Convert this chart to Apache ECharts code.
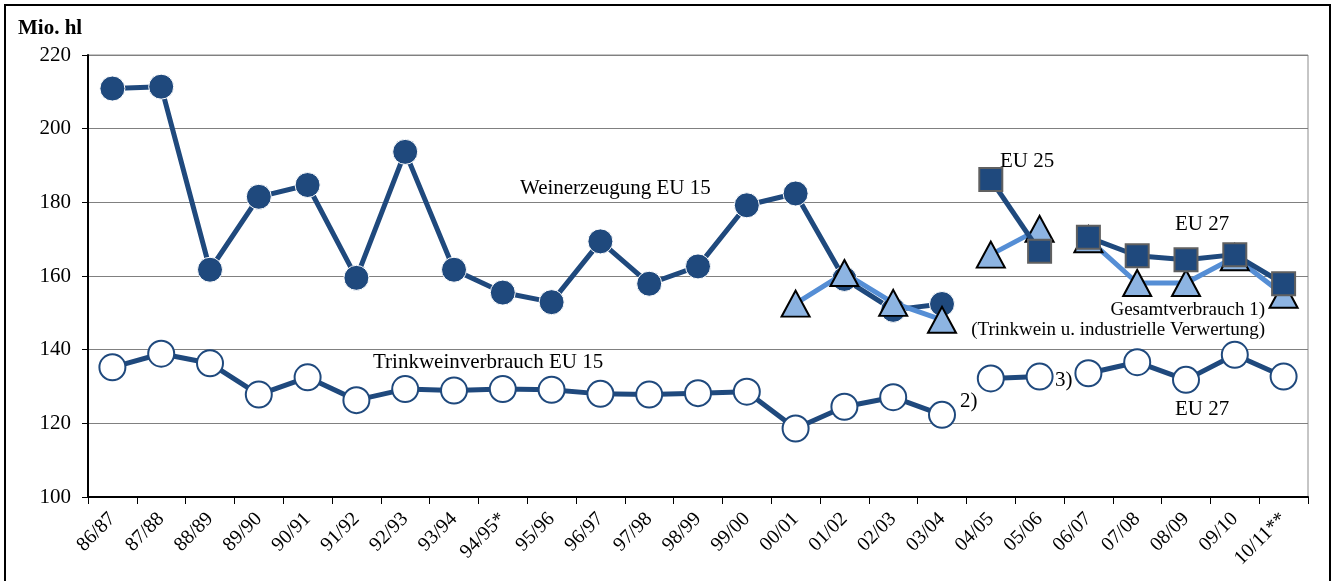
<!DOCTYPE html>
<html>
<head>
<meta charset="utf-8">
<title>Weinerzeugung und Verbrauch</title>
<script src="https://cdn.jsdelivr.net/npm/echarts@6/dist/echarts.min.js"></script>
<style>
  html, body { margin: 0; padding: 0; background: #fff; }
  #chart { width: 1333px; height: 581px; }
</style>
</head>
<body>
<div id="chart"></div>
<script>
// Wirtschaftsjahre
const categories = ['86/87', '87/88', '88/89', '89/90', '90/91', '91/92', '92/93', '93/94', '94/95*',
  '95/96', '96/97', '97/98', '98/99', '99/00', '00/01', '01/02', '02/03', '03/04', '04/05', '05/06',
  '06/07', '07/08', '08/09', '09/10', '10/11**']
const yTicks = [100, 120, 140, 160, 180, 200, 220]

// Weinerzeugung (Mio. hl)
const erzeugungEU15 = [210.9, 211.4, 161.7, 181.5, 184.7, 159.5, 193.7, 161.7, 155.5, 152.9, 169.4, 157.9,
  162.6, 179.2, 182.4, 159.2, 150.8, 152.4]
const erzeugungEU25 = [null, null, null, null, null, null, null, null, null, null, null, null, null, null,
  null, null, null, null, 186.2, 166.7]
const erzeugungEU27 = [null, null, null, null, null, null, null, null, null, null, null, null, null, null,
  null, null, null, null, null, null, 170.5, 165.5, 164.4, 165.8, 157.9]

// Gesamtverbrauch 1)
const gesamtEU15 = [null, null, null, null, null, null, null, null, null, null, null, null, null, null,
  152.5, 160.8, 152.7, 148.1]
const gesamtEU25 = [null, null, null, null, null, null, null, null, null, null, null, null, null, null,
  null, null, null, null, 165.8, 172.8]
const gesamtEU27 = [null, null, null, null, null, null, null, null, null, null, null, null, null, null,
  null, null, null, null, null, null, 170.0, 158.1, 158.1, 165.1, 154.9]

// Trinkweinverbrauch
const trinkEU15 = [135.2, 138.9, 136.3, 127.8, 132.5, 126.3, 129.3, 128.9, 129.3, 129.1, 128.0, 127.8,
  128.2, 128.6, 118.6, 124.5, 127.1, 122.3]
const trinkEU25 = [null, null, null, null, null, null, null, null, null, null, null, null, null, null,
  null, null, null, null, 132.2, 132.7]
const trinkEU27 = [null, null, null, null, null, null, null, null, null, null, null, null, null, null,
  null, null, null, null, null, null, 133.6, 136.6, 131.8, 138.6, 132.7]

const dark = '#1F497D'
const light = '#558ED5'
const serif = '"Liberation Serif", "Times New Roman", serif'

function circleSeries (name, data) {
  return {
    name: name,
    type: 'line',
    data: data,
    symbol: 'circle',
    symbolSize: 25,
    showAllSymbol: true,
    lineStyle: { color: dark, width: 5 },
    itemStyle: { color: dark, borderColor: '#fff', borderWidth: 1 },
    z: 2
  }
}
function triangleSeries (name, data) {
  return {
    name: name,
    type: 'line',
    data: data,
    symbol: 'triangle',
    symbolSize: [28, 26],
    showAllSymbol: true,
    lineStyle: { color: light, width: 5 },
    itemStyle: { color: '#8DB4E2', borderColor: '#000', borderWidth: 2 },
    z: 3
  }
}
function squareSeries (name, data) {
  return {
    name: name,
    type: 'line',
    data: data,
    symbol: 'rect',
    symbolSize: 23,
    showAllSymbol: true,
    lineStyle: { color: dark, width: 5 },
    itemStyle: { color: dark, borderColor: '#606060', borderWidth: 2 },
    z: 4
  }
}
function whiteSeries (name, data) {
  return {
    name: name,
    type: 'line',
    data: data,
    symbol: 'circle',
    symbolSize: 26,
    showAllSymbol: true,
    lineStyle: { color: dark, width: 5 },
    itemStyle: { color: '#fff', borderColor: dark, borderWidth: 2 },
    z: 2
  }
}
function note (text, x, y, align, size) {
  return {
    type: 'text',
    z: 10,
    style: {
      text: text,
      x: x,
      y: y,
      font: (size || 21) + 'px ' + serif,
      fill: '#000',
      align: align || 'left',
      textAlign: align || 'left',
      verticalAlign: 'middle',
      textVerticalAlign: 'middle'
    }
  }
}

const myChart = echarts.init(document.getElementById('chart'))
const option = {
  animation: false,
  backgroundColor: '#fff',
  grid: {
    left: 88,
    right: 25,
    top: 55,
    bottom: 84,
    show: true,
    borderColor: '#8c8c8c',
    borderWidth: 1
  },
  xAxis: {
    type: 'category',
    data: categories,
    boundaryGap: true,
    axisLine: { lineStyle: { color: '#000', width: 2 } },
    axisTick: { show: true, length: 7, alignWithLabel: false, lineStyle: { color: '#000' } },
    axisLabel: {
      interval: 0,
      rotate: 45,
      margin: 19,
      color: '#000',
      fontFamily: serif,
      fontSize: 20
    }
  },
  yAxis: {
    type: 'value',
    min: yTicks[0],
    max: yTicks[yTicks.length - 1],
    interval: 20,
    axisLine: { show: true, lineStyle: { color: '#000', width: 2 } },
    axisTick: { show: true, length: 6, lineStyle: { color: '#000' } },
    axisLabel: { margin: 17, color: '#000', fontFamily: serif, fontSize: 21 },
    splitLine: { lineStyle: { color: '#808080', width: 1 } }
  },
  series: [
    circleSeries('Weinerzeugung EU 15', erzeugungEU15),
    triangleSeries('Gesamtverbrauch EU 15', gesamtEU15),
    triangleSeries('Gesamtverbrauch EU 25', gesamtEU25),
    triangleSeries('Gesamtverbrauch EU 27', gesamtEU27),
    squareSeries('Weinerzeugung EU 25', erzeugungEU25),
    squareSeries('Weinerzeugung EU 27', erzeugungEU27),
    whiteSeries('Trinkweinverbrauch EU 15', trinkEU15),
    whiteSeries('Trinkweinverbrauch EU 25', trinkEU25),
    whiteSeries('Trinkweinverbrauch EU 27', trinkEU27)
  ],
  graphic: [
    {
      type: 'rect',
      z: 0,
      shape: { x: 5, y: 5, width: 1325, height: 590 },
      style: { fill: 'none', stroke: '#000', lineWidth: 2 }
    },
    {
      type: 'text',
      z: 10,
      style: { text: 'Mio. hl', x: 18, y: 29, font: 'bold 21px ' + serif, fill: '#000', verticalAlign: 'middle', textVerticalAlign: 'middle' }
    },
    note('Weinerzeugung EU 15', 520, 188),
    note('EU 25', 1000, 161),
    note('EU 27', 1175, 224),
    note('Gesamtverbrauch 1)', 1265, 310, 'right', 19),
    note('(Trinkwein u. industrielle Verwertung)', 1265, 330, 'right', 19),
    note('Trinkweinverbrauch EU 15', 373, 362),
    note('2)', 960, 401),
    note('3)', 1055, 380),
    note('EU 27', 1175, 409)
  ]
}
myChart.setOption(option)
</script>
</body>
</html>
